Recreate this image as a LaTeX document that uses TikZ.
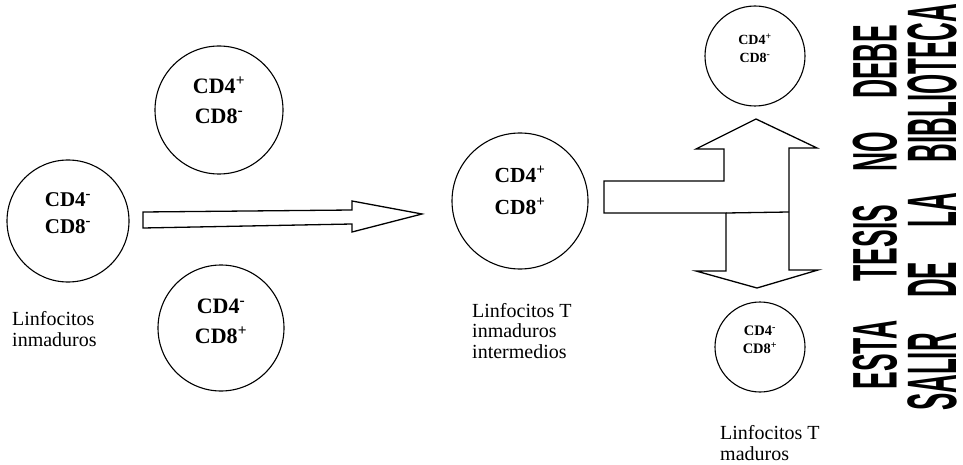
\documentclass[tikz,border=0pt]{standalone}
\usepackage{fontspec}
\setmainfont{Liberation Serif}
\newfontfamily\stampfont{Liberation Sans}
\usepackage{tikz}
\usetikzlibrary{calc}
\usetikzlibrary{positioning}
\tikzset{x=1pt, y=-1pt, every text node part/.style={align=center}}
\tikzstyle{cell} = [draw, circle, line width=1.1pt, inner sep=0pt, font={\bfseries}]
\tikzstyle{lbl} = [anchor=base west, inner sep=0pt, every text node part/.append style={align=left}, font={\fontsize{20}{20.5}\selectfont}]
\tikzstyle{bigarrow} = [draw, line width=1.3pt, fill=white, line join=miter]
\tikzstyle{stampL} = [rotate=90, inner sep=0pt, font={\stampfont\bfseries\fontsize{63}{63}\selectfont}]
\tikzstyle{stampR} = [rotate=90, inner sep=0pt, font={\stampfont\bfseries\fontsize{70}{70}\selectfont}]

\begin{document}
\begin{tikzpicture}
  \useasboundingbox (0,0) rectangle (963,465);
  % cells
  \node[cell, minimum size=122pt, text depth=16pt, font={\bfseries\fontsize{21}{27}\selectfont}] (dn) at (68,221) {CD4\textsuperscript{-}\\CD8\textsuperscript{-}};
  \node[cell, minimum size=128pt, text depth=20pt, font={\bfseries\fontsize{22}{30}\selectfont}] (sp4) at (219,110) {CD4\textsuperscript{+}\\CD8\textsuperscript{-}};
  \node[cell, minimum size=126pt, text depth=14pt, font={\bfseries\fontsize{22}{30}\selectfont}] (sp8) at (221,328) {CD4\textsuperscript{-}\\CD8\textsuperscript{+}};
  \node[cell, minimum size=136pt, text depth=22pt, font={\bfseries\fontsize{21.5}{32}\selectfont}] (dp) at (520,201) {CD4\textsuperscript{+}\\CD8\textsuperscript{+}};
  \node[cell, minimum size=100pt, text depth=16pt, font={\bfseries\fontsize{14}{18}\selectfont}] (m4) at (755,56) {CD4\textsuperscript{+}\\CD8\textsuperscript{-}};
  \node[cell, minimum size=90pt, text depth=14pt, font={\bfseries\fontsize{14.5}{18}\selectfont}] (m8) at (760,347) {CD4\textsuperscript{-}\\CD8\textsuperscript{+}};
  % labels (anchored at the baseline of the last line)
  \node[lbl] (ldn) at (12,346) {Linfocitos\\inmaduros};
  \node[lbl] (ldp) at (472,358) {Linfocitos T\\inmaduros\\intermedios};
  \node[lbl] (lm) at (720,460) {Linfocitos T\\maduros};
  % block arrows
  \draw[bigarrow] (143,212) -- (352,210) -- (352,201) -- (422,214) -- (352,232) -- (352,224) -- (143,228) -- cycle;
  \draw[bigarrow] (604,181) -- (724,181) -- (724,149) -- (696,149) -- (756,119) -- (817,148) -- (789,148)
    -- (789,270) -- (818,270) -- (757,288) -- (696,271) -- (726,271) -- (726,213) -- (604,213) -- cycle;
  \draw[line width=1.3pt] (726,213) -- (789,212);
  % stamp
  \node[stampL] (s1) at (875,355) {\scalebox{0.42}[1]{ESTA}};
  \node[stampL] (s2) at (875,243) {\scalebox{0.42}[1]{TESIS}};
  \node[stampL] (s3) at (875,152) {\scalebox{0.42}[1]{NO}};
  \node[stampL] (s4) at (875,62) {\scalebox{0.42}[1]{DEBE}};
  \node[stampR] (s5) at (932,372) {\scalebox{0.37}[1]{SALIR}};
  \node[stampR] (s6) at (932,280) {\scalebox{0.37}[1]{DE}};
  \node[stampR] (s7) at (932,210) {\scalebox{0.37}[1]{LA}};
  \node[stampR] (s8) at (932,83) {\scalebox{0.37}[1]{BIBLIOTECA}};
\end{tikzpicture}
\end{document}
